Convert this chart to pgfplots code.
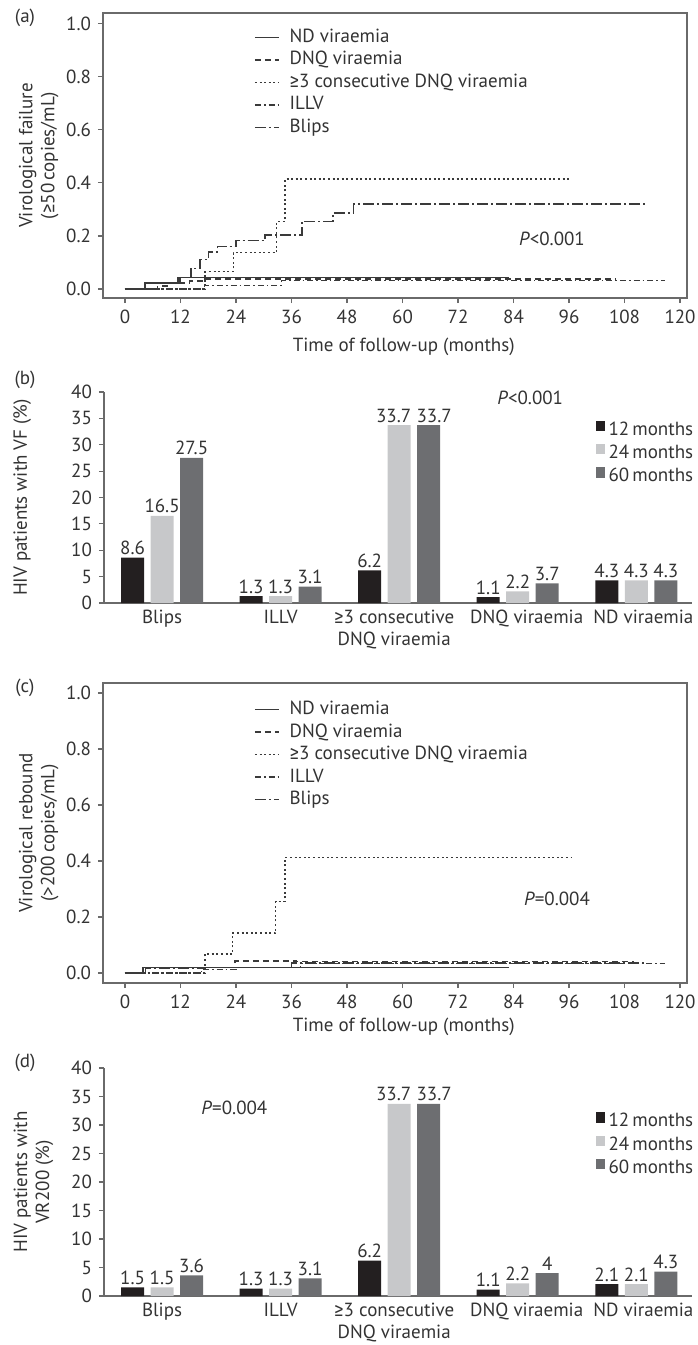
\documentclass[border=0pt]{standalone}
\usepackage{pgfplots}
\pgfplotsset{compat=1.18}
\usepackage{fontspec}
\setmainfont{PT Sans}
\newfontfamily\symf{Fira Sans}
\newcommand\GE{{\symf ≥}}
\definecolor{txt}{HTML}{333333}
\definecolor{axg}{HTML}{6A6A6A}
\definecolor{ln}{HTML}{3A3A3A}
\definecolor{cA}{HTML}{231F20}
\definecolor{cB}{HTML}{C7C8CA}
\definecolor{cC}{HTML}{6D6E71}
\newcommand\fs{\fontsize{9.5}{11}\selectfont}
\pgfplotsset{
  kmstyle/.style={
    scale only axis, anchor=north west,
    xmin=-4.75, xmax=121.5,
    xtick={0,12,24,36,48,60,72,84,96,108,120},
    ytick={0,0.2,0.4,0.6,0.8,1.0},
    yticklabel style={/pgf/number format/.cd,fixed,fixed zerofill,precision=1},
    /pgf/number format/assume math mode=true,
    tick align=outside, tick pos=left, major tick length=2.5pt,
    axis line style={draw=axg, line width=0.7pt},
    tick style={axg, line width=0.6pt},
    ticklabel style={font=\fs, text=txt},
    label style={font=\fs, text=txt},
    xlabel={Time of follow-up (months)},
    legend cell align=left,
    legend image code/.code={\draw[##1] (0pt,0pt) -- (12pt,0pt);},
    legend style={draw=none, fill=none, font=\fs, text=txt,
      nodes={inner sep=0pt, text height=6.8pt, text depth=1.9pt},
      row sep=2.55pt, column sep=5pt},
  },
  nd/.style={ln, line width=0.7pt, const plot},
  dnq/.style={ln, line width=0.7pt, const plot, dash pattern=on 3pt off 2pt},
  cons/.style={ln, line width=0.7pt, const plot, dash pattern=on 1pt off 1.3pt},
  illv/.style={ln, line width=0.7pt, const plot, dash pattern=on 3pt off 1.5pt on 0.8pt off 1.5pt},
  blips/.style={ln, line width=0.7pt, const plot, dash pattern=on 5.5pt off 1.5pt on 1pt off 1.5pt},
  barstyle/.style={
    scale only axis, anchor=south west, clip=false,
    width=294pt,
    xmin=-0.49, xmax=4.47, ymin=0, ymax=40,
    ybar, bar width=11.5pt,
    xtick={0,1,1.958,3.076,4.06},
    xticklabels={Blips, ILLV, {\GE3 consecutive\\DNQ viraemia}, DNQ viraemia, ND viraemia},
    xticklabel style={align=center, font=\fs, text=txt, inner sep=1pt},
    ytick={0,5,10,15,20,25,30,35,40},
    /pgf/number format/assume math mode=true,
    yticklabel style={font=\fs, text=txt},
    axis x line*=bottom, axis y line*=left,
    axis line style={draw=axg, line width=0.7pt, -},
    x tick style={draw=none},
    y tick style={axg, line width=0.6pt},
    tick align=outside, major tick length=2.5pt,
    label style={font=\fs, text=txt},
    point meta=explicit symbolic,
    nodes near coords,
    every node near coord/.append style={font=\fs, text=txt, anchor=south, inner sep=1.2pt},
    legend cell align=left,
    legend image code/.code={\fill[##1] (0pt,-0.3pt) rectangle (4.5pt,4.8pt);},
    legend style={draw=none, fill=none, font=\fs, text=txt,
      nodes={inner sep=0pt, text height=6.8pt, text depth=1.9pt},
      row sep=2.55pt, column sep=2pt},
  },
}
\begin{document}
\begin{tikzpicture}
\useasboundingbox (0,0) rectangle (348.5pt,-672.5pt);

% ---------------- (a)
\begin{axis}[kmstyle,
  at={(103*0.5pt,-13*0.5pt)}, width=292pt, height=142.5pt,
  ymin=-0.034, ymax=1.04,
  xlabel style={at={(axis description cs:0.515,-0.172)}, anchor=center},
  ylabel={Virological failure\\(\GE50\,copies/mL)},
  ylabel style={at={(axis description cs:-0.11,0.5)}, anchor=center, align=center},
  legend style={at={(axis description cs:0.248,0.96)}, anchor=north west},
]
\addplot[nd] coordinates {(0,0) (4.3,0.022) (11.9,0.044) (83,0.044)};
\addlegendentry{ND viraemia}
\addplot[dnq] coordinates {(0,0) (7.5,0.011) (9.5,0.022) (14,0.03) (17.3,0.038) (106,0.038)};
\addlegendentry{DNQ viraemia}
\addplot[cons] coordinates {(0,0) (17.3,0.065) (23.4,0.137) (32.8,0.254) (34.6,0.414) (96.2,0.414)};
\addlegendentry{\GE3 consecutive DNQ viraemia}
\addplot[illv] coordinates {(0,0) (17.2,0.012) (33.8,0.031) (116.8,0.031)};
\addlegendentry{ILLV}
\addplot[blips] coordinates {(0,0) (7,0.022) (11.5,0.044) (14.3,0.078) (16.2,0.11) (18,0.14) (20,0.16) (24,0.182) (30.3,0.203) (38.3,0.255) (45,0.287) (49.4,0.32) (112.6,0.32)};
\addlegendentry{Blips}
\node[font=\fs, text=txt] at (axis cs:92.3,0.189) {\textit{P}<0.001};
\end{axis}

% ---------------- (b)
\begin{axis}[barstyle,
  at={(104*0.5pt,-603*0.5pt)}, height=105.5pt,
  ylabel={HIV patients with VF (\%)},
  ylabel style={at={(axis description cs:-0.139,0.5)}, anchor=center, align=center},
  legend style={at={(axis description cs:0.825,0.885)}, anchor=north west},
]
\addplot[fill=cA, draw=none, bar shift=-14.75pt] coordinates {(0,8.6) [8.6] (1,1.3) [1.3] (2,6.2) [6.2] (3,1.1) [1.1] (4,4.3) [4.3]};
\addlegendentry{12\,months}
\addplot[fill=cB, draw=none, bar shift=0pt] coordinates {(0,16.5) [16.5] (1,1.3) [1.3] (2,33.7) [\kern-5.5pt 33.7] (3,2.2) [2.2] (4,4.3) [4.3]};
\addlegendentry{24\,months}
\addplot[fill=cC, draw=none, bar shift=14.75pt] coordinates {(0,27.5) [27.5] (1,3.1) [3.1] (2,33.7) [33.7\kern-5.5pt] (3,3.7) [3.7] (4,4.3) [4.3]};
\addlegendentry{60\,months}
\node[font=\fs, text=txt] at (axis cs:3.105,38.9) {\textit{P}<0.001};
\end{axis}

% ---------------- (c)
\begin{axis}[kmstyle,
  at={(103*0.5pt,-683*0.5pt)}, width=292pt, height=150pt,
  ymin=-0.036, ymax=1.036,
  xlabel style={at={(axis description cs:0.515,-0.147)}, anchor=center},
  ylabel={Virological rebound\\(>200\,copies/mL)},
  ylabel style={at={(axis description cs:-0.11,0.5)}, anchor=center, align=center},
  legend style={at={(axis description cs:0.248,0.955)}, anchor=north west},
]
\addplot[nd] coordinates {(0,0) (3.9,0.02) (83,0.02)};
\addlegendentry{ND viraemia}
\addplot[dnq] coordinates {(0,0) (4.5,0.02) (23.8,0.043) (37,0.04) (110,0.04)};
\addlegendentry{DNQ viraemia}
\addplot[cons] coordinates {(0,0) (17.3,0.068) (23.3,0.142) (32.6,0.256) (34.6,0.413) (96.4,0.413)};
\addlegendentry{\GE3 consecutive DNQ viraemia}
\addplot[illv] coordinates {(0,0) (16.5,0.013) (24,0.02) (38,0.033) (116.8,0.033)};
\addlegendentry{ILLV}
\addplot[blips] coordinates {(0,0) (4.5,0.015) (17,0.02) (36,0.036) (112.6,0.036)};
\addlegendentry{Blips}
\node[font=\fs, text=txt] at (axis cs:93.4,0.265) {\textit{P}=0.004};
\end{axis}

% ---------------- (d)
\begin{axis}[barstyle,
  at={(104*0.5pt,-1296*0.5pt)}, height=114pt,
  ylabel={HIV patients with\\VR200 (\%)},
  ylabel style={at={(axis description cs:-0.12,0.5)}, anchor=center, align=center},
  legend style={at={(axis description cs:0.825,0.825)}, anchor=north west},
]
\addplot[fill=cA, draw=none, bar shift=-14.75pt] coordinates {(0,1.5) [1.5] (1,1.3) [1.3] (2,6.2) [6.2] (3,1.1) [1.1] (4,2.1) [2.1]};
\addlegendentry{12\,months}
\addplot[fill=cB, draw=none, bar shift=0pt] coordinates {(0,1.5) [1.5] (1,1.3) [1.3] (2,33.7) [\kern-5.5pt 33.7] (3,2.2) [2.2] (4,2.1) [2.1]};
\addlegendentry{24\,months}
\addplot[fill=cC, draw=none, bar shift=14.75pt] coordinates {(0,3.6) [3.6] (1,3.1) [3.1] (2,33.7) [33.7\kern-5.5pt] (3,4) [4] (4,4.3) [4.3]};
\addlegendentry{60\,months}
\node[font=\fs, text=txt] at (axis cs:0.61,33.0) {\textit{P}=0.004};
\end{axis}

\node[font=\fs, text=txt] at (12.5pt,-9pt) {(a)};
\node[font=\fs, text=txt] at (12.5pt,-190pt) {(b)};
\node[font=\fs, text=txt] at (12.5pt,-344pt) {(c)};
\node[font=\fs, text=txt] at (12.5pt,-531.5pt) {(d)};
\end{tikzpicture}
\end{document}
